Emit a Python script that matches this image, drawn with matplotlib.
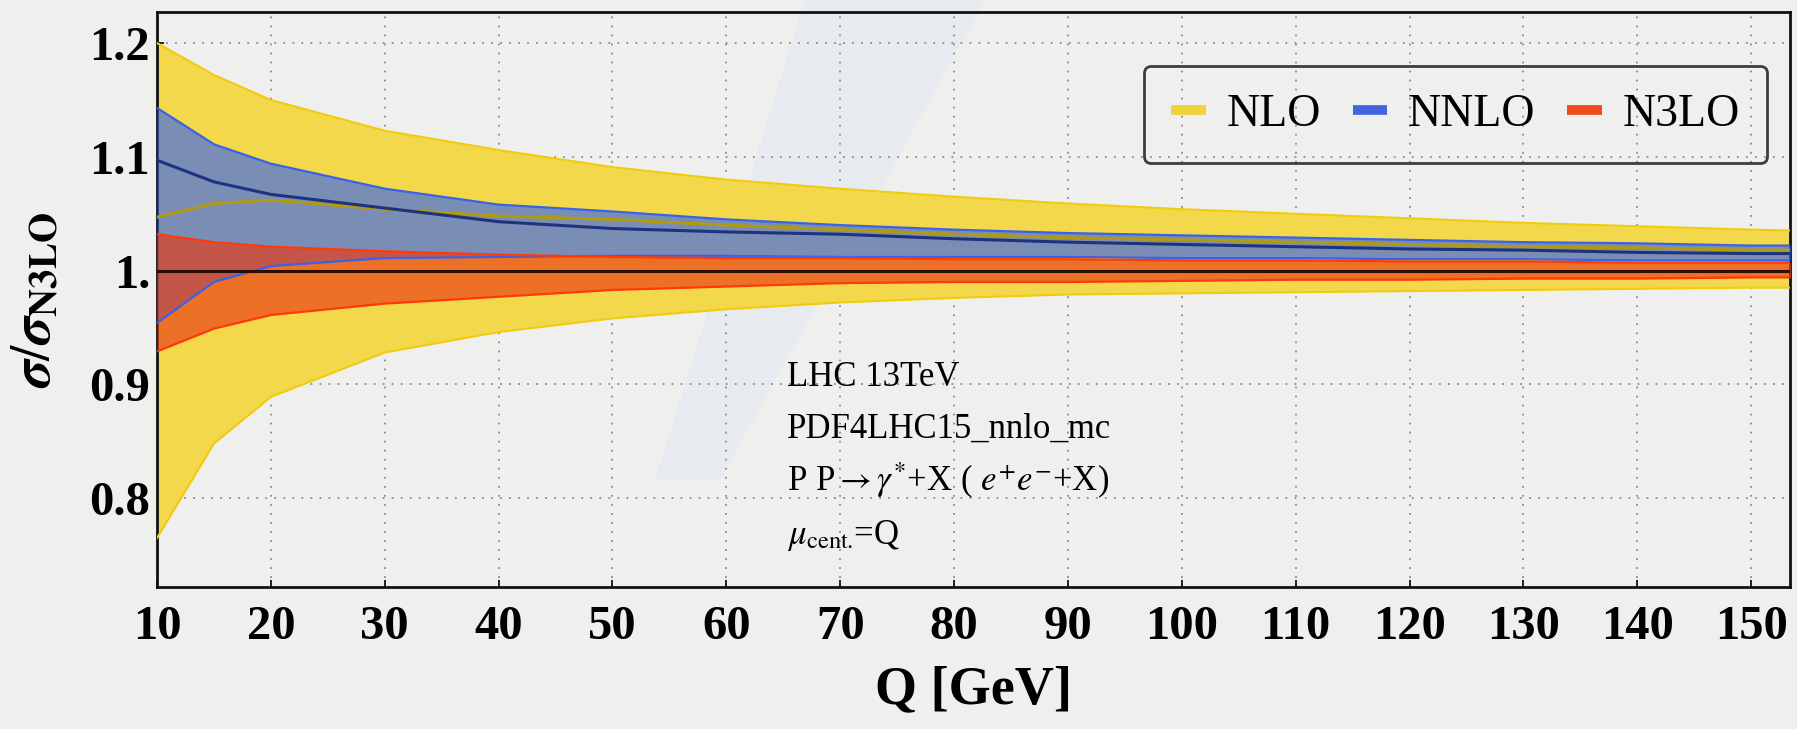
import numpy as np
import matplotlib
matplotlib.use("Agg")
import matplotlib.pyplot as plt
from matplotlib.lines import Line2D
from matplotlib.patches import Polygon

plt.rcParams['font.family'] = ['Liberation Serif', 'DejaVu Serif']
plt.rcParams['mathtext.fontset'] = 'stix'

# Q values [GeV]
q = [10, 15, 20, 30, 40, 50, 60, 70, 80, 90, 100, 110, 120, 130, 140, 150, 155]

# NLO band / central, normalised to N3LO
nlo_hi = [1.200, 1.172, 1.150, 1.123, 1.106, 1.091, 1.080, 1.072, 1.065, 1.059, 1.054, 1.050, 1.046, 1.042, 1.039, 1.036, 1.035]
nlo_c  = [1.047, 1.059, 1.062, 1.054, 1.048, 1.045, 1.040, 1.036, 1.032, 1.029, 1.027, 1.025, 1.023, 1.021, 1.020, 1.018, 1.018]
nlo_lo = [0.765, 0.848, 0.889, 0.928, 0.946, 0.958, 0.966, 0.972, 0.976, 0.979, 0.980, 0.981, 0.982, 0.983, 0.984, 0.985, 0.985]

# NNLO
nnlo_hi = [1.143, 1.111, 1.094, 1.072, 1.058, 1.052, 1.045, 1.040, 1.036, 1.033, 1.031, 1.029, 1.027, 1.025, 1.024, 1.022, 1.022]
nnlo_c  = [1.097, 1.078, 1.067, 1.055, 1.043, 1.037, 1.034, 1.032, 1.028, 1.025, 1.023, 1.021, 1.019, 1.018, 1.016, 1.015, 1.015]
nnlo_lo = [0.954, 0.990, 1.004, 1.011, 1.012, 1.013, 1.013, 1.012, 1.012, 1.012, 1.011, 1.011, 1.010, 1.010, 1.009, 1.009, 1.009]

# N3LO
n3lo_hi = [1.032, 1.025, 1.021, 1.017, 1.014, 1.012, 1.011, 1.011, 1.010, 1.010, 1.009, 1.009, 1.008, 1.008, 1.007, 1.007, 1.007]
n3lo_c  = [1.0] * len(q)
n3lo_lo = [0.929, 0.949, 0.961, 0.971, 0.977, 0.983, 0.986, 0.989, 0.990, 0.990, 0.991, 0.992, 0.992, 0.993, 0.993, 0.994, 0.994]

xticks = [10, 20, 30, 40, 50, 60, 70, 80, 90, 100, 110, 120, 130, 140, 150]
yticks = [0.8, 0.9, 1.0, 1.1, 1.2]
ytick_labels = ['0.8', '0.9', '1.', '1.1', '1.2']

labels = ['NLO', 'NNLO', 'N3LO']
info_lines = ['LHC 13TeV',
              'PDF4LHC15_nnlo_mc',
              r'P P$\rightarrow\gamma^{*}$+X ( $e^{+}e^{-}$+X)',
              r'$\mu_{\rm cent.}\!$=Q']

#-----------------------------------------------------------------------------------------------
fig = plt.figure(figsize=(17.97, 7.29), dpi=100)
fig.set_facecolor('#efefee')
# faint light-blue stripe of the background picture
fig.patches.append(Polygon([(805/1797, 1), (985/1797, 1), (720/1797, 1-480/729), (655/1797, 1-480/729)],
                           closed=True, transform=fig.transFigure, facecolor='#e4eaf2',
                           edgecolor='none', alpha=0.7, zorder=-10))

ax = fig.add_axes([0.0874, 0.195, 0.9086, 0.788])
ax.set_facecolor('none')

ax.fill_between(q, nlo_lo, nlo_hi, color='#f2d84a', lw=0, zorder=2)
ax.fill_between(q, nnlo_lo, nnlo_hi, color='#2b5efe', alpha=0.6, lw=0, zorder=3)
ax.fill_between(q, n3lo_lo, n3lo_hi, color='#ea3a12', alpha=0.66, lw=0, zorder=4)

ax.plot(q, nlo_hi, color='#f0cc10', lw=1.5, zorder=5)
ax.plot(q, nlo_lo, color='#f0cc10', lw=1.5, zorder=5)
ax.plot(q, nnlo_hi, color='#3a62e6', lw=1.6, zorder=6)
ax.plot(q, nnlo_lo, color='#3a62e6', lw=1.6, zorder=6)
ax.plot(q, n3lo_hi, color='#ff3a0a', lw=1.6, zorder=6)
ax.plot(q, n3lo_lo, color='#ff3a0a', lw=1.6, zorder=6)
ax.plot(q, nlo_c, color='#b09a10', lw=2.2, zorder=7)
ax.plot(q, nnlo_c, color='#1e3380', lw=2.2, zorder=7)
ax.plot(q, n3lo_c, color='#2a0e04', lw=2.2, zorder=7)

ax.set_xlim(10, 153.4)
ax.set_ylim(0.722, 1.227)
ax.set_xticks(xticks)
ax.set_yticks(yticks)
ax.set_yticklabels(ytick_labels)

ax.grid(True, color='#8a8a8a', linestyle=(0, (1, 4)), lw=1.3, zorder=1)
ax.set_axisbelow(True)
ax.tick_params(axis='both', direction='in', length=5, width=1.2, labelsize=35)
ax.tick_params(axis='x', pad=13)
ax.tick_params(axis='y', pad=5)
for t in ax.get_xticklabels() + ax.get_yticklabels():
    t.set_fontweight('bold')
for s in ax.spines.values():
    s.set_linewidth(2)
    s.set_color('#111111')

ax.set_xlabel('Q [GeV]', fontsize=39, fontweight='bold', labelpad=12)
ax.set_ylabel(r'$\boldsymbol{\sigma}/\boldsymbol{\sigma}_{\mathbf{N3LO}}$', fontsize=40)
ax.yaxis.set_label_coords(-0.058, 0.5)

for i, line in enumerate(info_lines):
    ax.text(65.3, 0.899 - i * 0.0463, line, fontsize=25, va='baseline', ha='left', zorder=8)

handles = [Line2D([], [], color='#f2d23a', lw=7, solid_capstyle='butt'),
           Line2D([], [], color='#4466dd', lw=7, solid_capstyle='butt'),
           Line2D([], [], color='#f04a1a', lw=7, solid_capstyle='butt')]
leg = ax.legend(handles, labels, loc='upper right', bbox_to_anchor=(0.986, 0.907), ncol=3,
                fontsize=33, frameon=True, fancybox=True, handlelength=0.75, handletextpad=0.45,
                columnspacing=0.7, borderpad=0.6, borderaxespad=0)
leg.get_frame().set_facecolor('none')
leg.get_frame().set_edgecolor('#111111')
leg.get_frame().set_linewidth(2)
leg.get_frame().set_boxstyle('round', pad=0, rounding_size=0.15)

plt.savefig('out.png', dpi=100, facecolor=fig.get_facecolor())
